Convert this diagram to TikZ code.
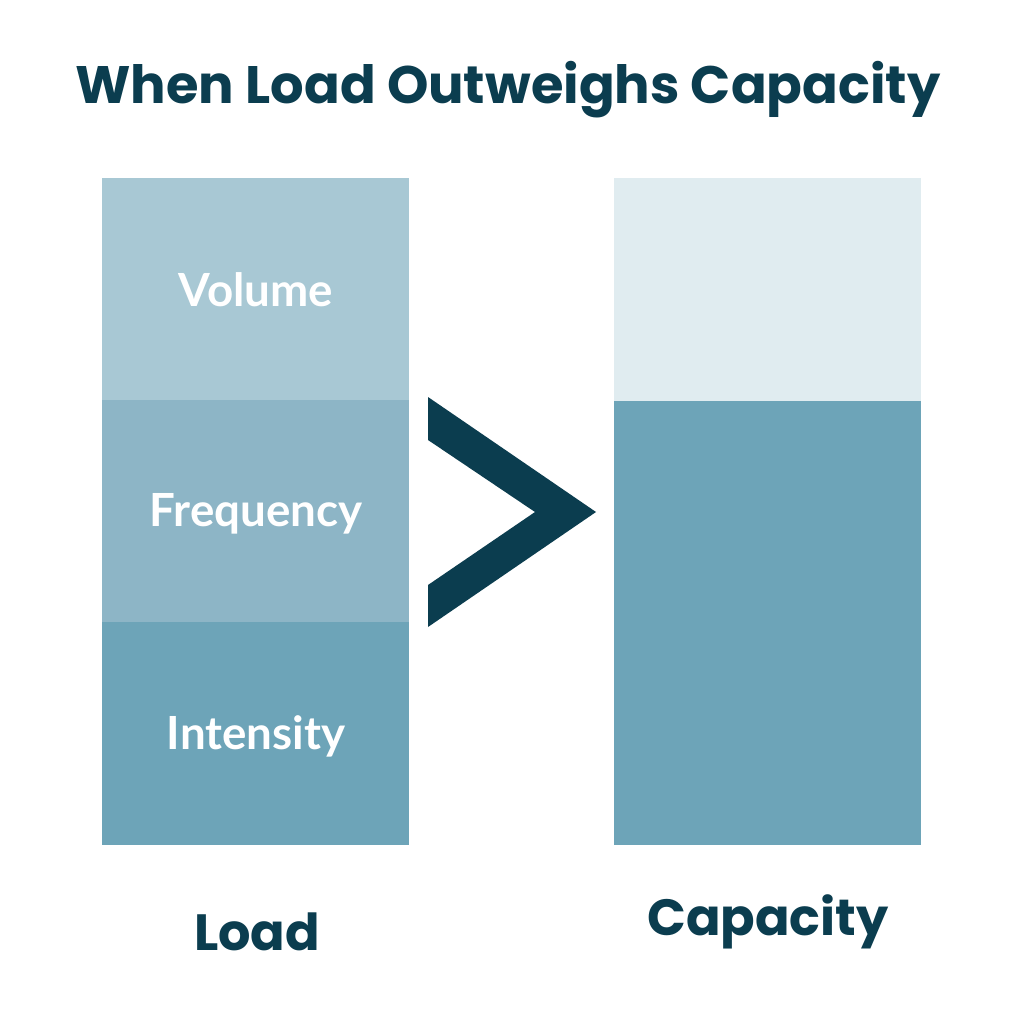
\documentclass[tikz,border=0pt]{standalone}
\usepackage{fontspec}
\newfontfamily\headfont{Poppins}
\newfontfamily\labfont{Lato}
\definecolor{dark}{HTML}{0B3D4F}
\definecolor{cA}{HTML}{A8C8D4}
\definecolor{cB}{HTML}{8DB5C6}
\definecolor{cC}{HTML}{6DA4B8}
\definecolor{cL}{HTML}{E0ECF0}
\begin{document}
\begin{tikzpicture}[x=0.02cm,y=-0.02cm,
  seg/.style={draw=none,inner sep=0},
  inlab/.style={text=white,font=\labfont\bfseries\fontsize{26}{30}\selectfont},
  head/.style={text=dark,font=\headfont\bfseries\fontsize{30}{34}\selectfont}]
\fill[white] (0,0) rectangle (1024,1024);
\node[head] (title) at (508,90) {When Load Outweighs Capacity};
\fill[cA] (102,178) rectangle (409,400);
\fill[cB] (102,400) rectangle (409,622);
\fill[cC] (102,622) rectangle (409,845);
\node[inlab] (vol) at (256,290) {Volume};
\node[inlab] (freq) at (256,514) {Frequency};
\node[inlab] (int) at (256,736) {Intensity};
\fill[cL] (614,178) rectangle (921,401);
\fill[cC] (614,401) rectangle (921,845);
\fill[dark] (428,397) -- (596,512) -- (428,627) -- (428,585) -- (535,512) -- (428,440) -- cycle;
\node[head,font=\headfont\bfseries\fontsize{29}{34}\selectfont] (load) at (257,932) {Load};
\node[head,font=\headfont\bfseries\fontsize{29}{34}\selectfont] (cap) at (768,922) {Capacity};
\end{tikzpicture}
\end{document}
